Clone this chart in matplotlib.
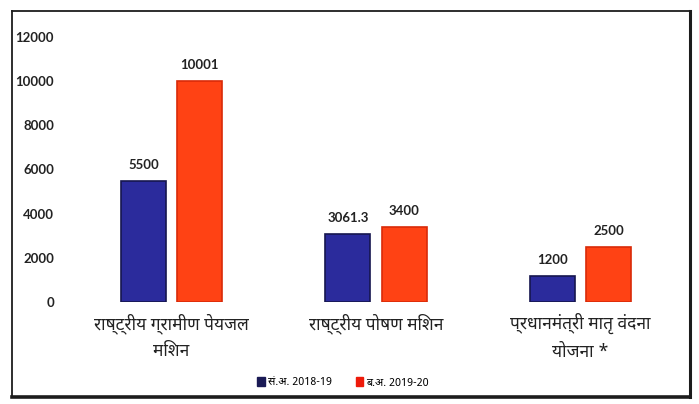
import matplotlib
matplotlib.use("Agg")
import matplotlib.pyplot as plt
from matplotlib import font_manager
from matplotlib.ft2font import FT2Font
from matplotlib.patches import Rectangle
from matplotlib.lines import Line2D
import numpy as np

categories = ["राष्ट्रीय ग्रामीण पेयजल\nमिशन", "राष्ट्रीय पोषण मिशन", "प्रधानमंत्री मातृ वंदना\nयोजना *"]
revised_2018_19 = [5500, 3061.3, 1200]
budget_2019_20 = [10001, 3400, 2500]
value_labels_a = ["5500", "3061.3", "1200"]
value_labels_b = ["10001", "3400", "2500"]
series_names = ["सं.अ. 2018-19", "ब.अ. 2019-20"]
yticks = [0, 2000, 4000, 6000, 8000, 10000, 12000]


def find_devanagari_font():
    preferred = ["Noto Sans Devanagari", "Lohit Devanagari", "Mukta", "Hind",
                 "FreeSans", "Kalimati", "Gargi", "Nakula", "Samanata"]
    found = []
    for f in font_manager.fontManager.ttflist:
        try:
            cmap = FT2Font(f.fname).get_charmap()
        except Exception:
            continue
        if ord("र") in cmap and ord("ी") in cmap:
            found.append(f.name)
    for p in preferred:
        if p in found:
            return p
    return found[0] if found else "DejaVu Sans"


hindi_font = find_devanagari_font()
num_font = "Lato"

fig = plt.figure(figsize=(6.99, 4.04), dpi=100)
W, H = 699, 404
ax = fig.add_axes([65 / W, (H - 302) / H, (685 - 65) / W, (302 - 37) / H])

x = np.arange(len(categories))
off = 0.137
bw = 0.22
blue = "#2b2b9c"
red = "#ff4214"
ax.bar(x - off, revised_2018_19, bw, color=blue, edgecolor="#16164f", linewidth=1.2)
ax.bar(x + off, budget_2019_20, bw, color=red, edgecolor="#d92a08", linewidth=1.2)

for xi, v, t in zip(x - off, revised_2018_19, value_labels_a):
    ax.text(xi, v + 450, t, ha="center", va="bottom", fontsize=9.5,
            family=num_font, fontweight="bold", color="#222222")
for xi, v, t in zip(x + off, budget_2019_20, value_labels_b):
    ax.text(xi, v + 450, t, ha="center", va="bottom", fontsize=9.5,
            family=num_font, fontweight="bold", color="#222222")

ax.set_xlim(-0.52, 2.51)
ax.set_ylim(0, 12000)
ax.set_yticks(yticks)
ax.set_yticklabels([str(t) for t in yticks], family=num_font, fontweight="bold",
                   fontsize=9.5, color="#222222")
ax.tick_params(axis="y", length=0, pad=8)
ax.set_xticks(x)
ax.set_xticklabels(categories, family=[hindi_font, "DejaVu Sans"], fontsize=12.5,
                   color="#222222", linespacing=1.6)
ax.tick_params(axis="x", length=0, pad=8)
for s in ax.spines.values():
    s.set_visible(False)

# legend under the plot
handles = [Rectangle((0, 0), 1, 1, color="#1a1a55"), Rectangle((0, 0), 1, 1, color="#ee1a0a")]
fig.legend(handles, series_names, loc="center", bbox_to_anchor=(343 / W, 1 - 383 / H),
           ncol=2, frameon=False, prop={"family": [hindi_font, "DejaVu Sans"], "size": 7.8},
           handlelength=0.7, handleheight=0.9, handletextpad=0.3, columnspacing=2.2)

# outer frame: thin top/left, heavier bottom/right
left, right, top, bottom = 12 / W, 690 / W, 1 - 11 / H, 1 - 397 / H
frame = [((left, right), (top, top), 1.3), ((left, left), (bottom, top), 1.3),
         ((left, right), (bottom, bottom), 2.6), ((right, right), (bottom, top), 2.2)]
for xs, ys, lw in frame:
    fig.lines.append(Line2D(xs, ys, transform=fig.transFigure, color="#1c1c1c",
                            linewidth=lw, solid_capstyle="projecting"))

fig.savefig("out.png", dpi=100)
